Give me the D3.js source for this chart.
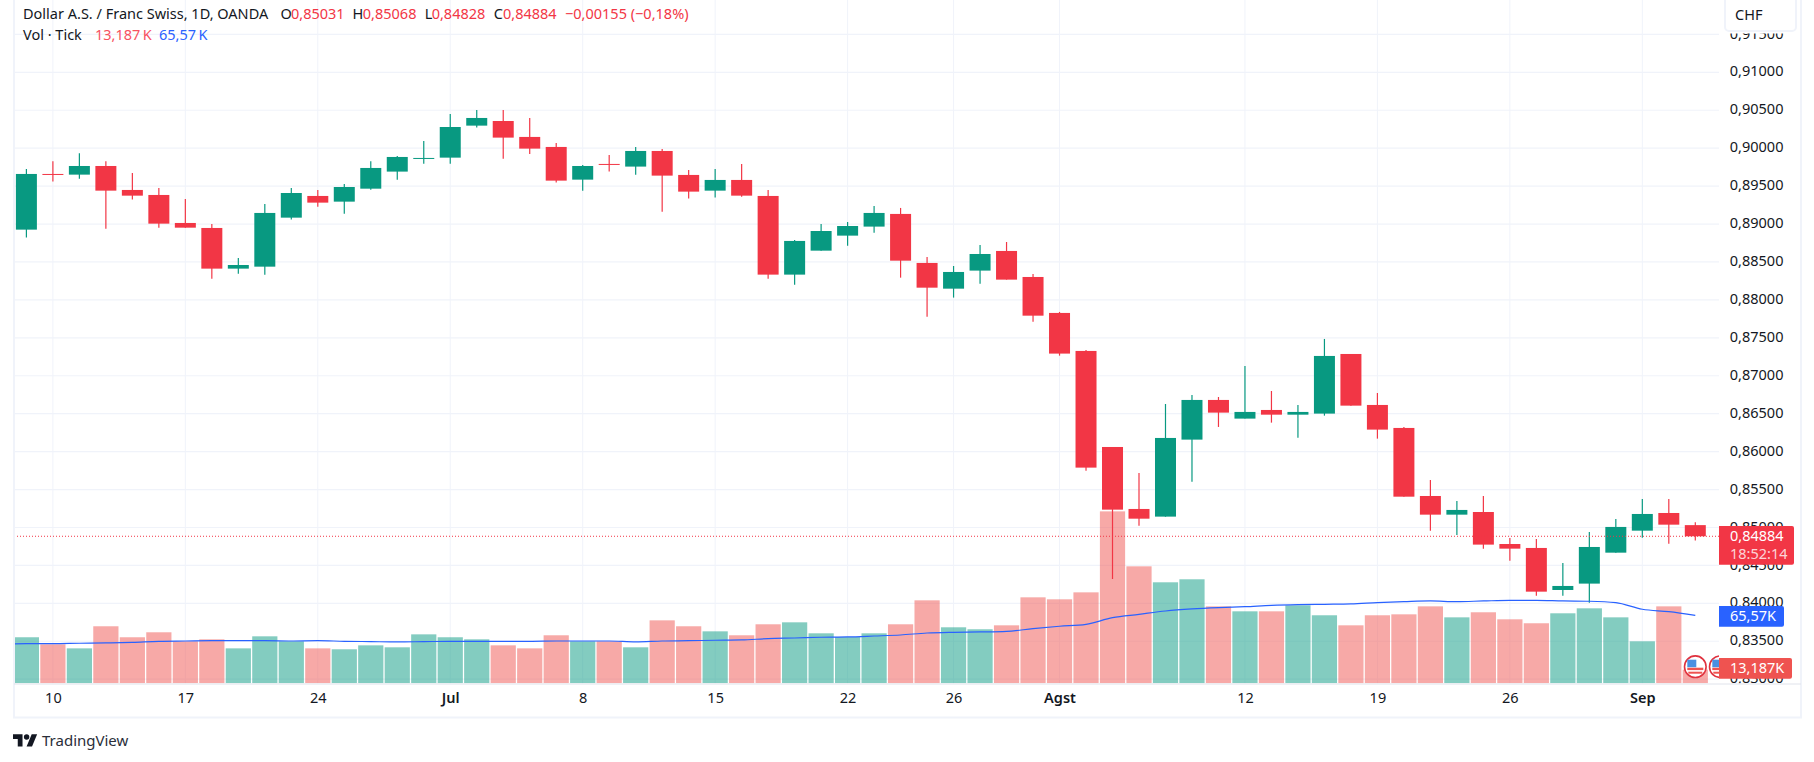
<!DOCTYPE html>
<html>
<head>
<meta charset="utf-8">
<style>
  html, body { margin: 0; padding: 0; background: #fff; }
  svg { display: block; }
  text { font-family: "Noto Sans", "Open Sans", sans-serif; }
  .axis path, .axis line { display: none; }
  .axis text { fill: #131722; font-size: 14.5px; }
</style>
<script src="https://cdn.jsdelivr.net/npm/d3@7"></script>
</head>
<body>
<script>
var opens = [
  0.88926, 0.89660, 0.89651, 0.89765, 0.89449, 0.89383, 0.89014, 0.88948, 0.88412, 0.88438, 0.89084, 0.89370,
  0.89295, 0.89466, 0.89691, 0.89858, 0.89875, 0.90297, 0.90358, 0.90148, 0.90016, 0.89585, 0.89792, 0.89757,
  0.89963, 0.89647, 0.89440, 0.89581, 0.89370, 0.88333, 0.88649, 0.88847, 0.88966, 0.89133, 0.88487, 0.88148,
  0.88386, 0.88645, 0.88302, 0.87828, 0.87327, 0.86061, 0.85244, 0.85143, 0.86158, 0.86681, 0.86435, 0.86549,
  0.86487, 0.86501, 0.87287, 0.86615, 0.86312, 0.85415, 0.85169, 0.85204, 0.84782, 0.84730, 0.84176, 0.84260,
  0.84668, 0.84958, 0.85191, 0.85031
];
var highs = [
  0.89726, 0.89827, 0.89932, 0.89827, 0.89673, 0.89475, 0.89330, 0.89001, 0.88553, 0.89264, 0.89475, 0.89449,
  0.89528, 0.89827, 0.89897, 0.90095, 0.90451, 0.90504, 0.90504, 0.90398, 0.90069, 0.89778, 0.89910, 0.90016,
  0.89989, 0.89713, 0.89726, 0.89792, 0.89449, 0.88790, 0.89001, 0.89027, 0.89238, 0.89212, 0.88566, 0.88447,
  0.88724, 0.88763, 0.88342, 0.87841, 0.87340, 0.86061, 0.85718, 0.86628, 0.86747, 0.86720, 0.87129, 0.86799,
  0.86615, 0.87485, 0.87287, 0.86773, 0.86325, 0.85626, 0.85349, 0.85415, 0.84862, 0.84848, 0.84532, 0.84941,
  0.85112, 0.85376, 0.85376, 0.85068
];
var lows = [
  0.88821, 0.89559, 0.89598, 0.88939, 0.89322, 0.88952, 0.88952, 0.88280, 0.88346, 0.88333, 0.89058, 0.89229,
  0.89137, 0.89453, 0.89585, 0.89796, 0.89796, 0.90271, 0.89862, 0.89923, 0.89546, 0.89440, 0.89691, 0.89651,
  0.89163, 0.89335, 0.89348, 0.89361, 0.88280, 0.88201, 0.88649, 0.88715, 0.88886, 0.88293, 0.87779, 0.88030,
  0.88214, 0.88267, 0.87713, 0.87265, 0.85749, 0.84321, 0.85024, 0.85143, 0.85604, 0.86325, 0.86435, 0.86382,
  0.86184, 0.86474, 0.86606, 0.86171, 0.85406, 0.84958, 0.84901, 0.84721, 0.84563, 0.84101, 0.84101, 0.84009,
  0.84668, 0.84866, 0.84787, 0.84828
];
var closes = [
  0.89660, 0.89651, 0.89765, 0.89440, 0.89374, 0.89005, 0.88952, 0.88412, 0.88460, 0.89146, 0.89409, 0.89282,
  0.89488, 0.89739, 0.89884, 0.89871, 0.90279, 0.90398, 0.90139, 0.89994, 0.89572, 0.89765, 0.89783, 0.89963,
  0.89638, 0.89427, 0.89581, 0.89374, 0.88333, 0.88777, 0.88908, 0.88974, 0.89146, 0.88517, 0.88161, 0.88368,
  0.88605, 0.88267, 0.87792, 0.87292, 0.85789, 0.85235, 0.85116, 0.86180, 0.86681, 0.86514, 0.86523, 0.86487,
  0.86523, 0.87261, 0.86606, 0.86290, 0.85406, 0.85169, 0.85231, 0.84774, 0.84721, 0.84154, 0.84229, 0.84743,
  0.85007, 0.85178, 0.85037, 0.84884
];
// tick volume in thousands
var volumes = [
  44.4, 37.6, 33.7, 55.0, 44.4, 49.2, 40.5, 42.4, 33.7, 45.3, 40.5, 33.7, 32.8, 36.6, 34.7, 47.2,
  44.4, 42.4, 36.6, 33.7, 46.3, 40.5, 40.5, 34.7, 60.7, 55.0, 50.1, 46.3, 56.9, 58.8, 48.2, 44.7,
  48.2, 56.9, 80.0, 54.0, 52.1, 55.9, 82.9, 81.0, 87.7, 165.8, 112.8, 97.4, 100.3, 74.2, 69.4, 69.4,
  75.2, 65.6, 55.9, 65.6, 66.5, 74.2, 63.6, 68.5, 61.7, 57.9, 67.5, 72.3, 63.6, 40.5, 74.2, 13.187
];
// moving average, first value belongs to the bar just off the left edge
var volumeMa = [
  37.3, 38.2, 38.2, 38.6, 38.9, 39.5, 40.5, 40.8, 41.1, 41.1, 41.1, 40.8, 41.1, 40.5, 40.2, 39.9,
  40.2, 40.5, 40.5, 40.5, 40.5, 40.8, 40.8, 40.8, 39.9, 40.8, 41.1, 41.5, 41.8, 43.1, 43.7, 44.4,
  44.7, 45.6, 46.6, 48.5, 49.2, 49.5, 50.1, 52.7, 55.0, 56.9, 63.3, 66.5, 69.7, 71.7, 73.0, 73.9,
  75.2, 75.9, 76.2, 76.5, 77.8, 78.7, 79.4, 78.7, 79.4, 80.0, 80.0, 79.4, 79.1, 77.8, 71.4, 69.1, 65.57
];
var priceTicks = [0.915, 0.91, 0.905, 0.90, 0.895, 0.89, 0.885, 0.88, 0.875, 0.87, 0.865, 0.86, 0.855, 0.85, 0.845, 0.84, 0.835, 0.83];
var timeTickBars = [1, 6, 11, 16, 21, 26, 31, 35, 39, 46, 51, 56, 61];
var timeTickLabels = ['10', '17', '24', 'Jul', '8', '15', '22', '26', 'Agst', '12', '19', '26', 'Sep'];
var boldLabels = ['Jul', 'Agst', 'Sep'];

var lastPrice = closes[closes.length - 1];
var lastVolume = volumes[volumes.length - 1];
var lastMa = volumeMa[volumeMa.length - 1];

var width = 1814, height = 762;
var plotLeft = 14, plotRight = 1719, plotBottom = 683.3, frameRight = 1801, frameBottom = 717.6;
var up = '#089981', down = '#f23645', downVol = '#ef5350', blue = '#2962ff', gridColor = '#f0f3fa', ink = '#131722';

var locale = d3.formatLocale({ decimal: ',', thousands: '.', grouping: [3], currency: ['', ''] });
var fmtPrice = locale.format('.5f');
var fmtVol = locale.format(',.3~f');
var fmtMa = locale.format('.2f');

var x = d3.scaleLinear().domain([0, 63]).range([26.4, 1695.3]);
var y = d3.scaleLinear().domain([0.83, 0.91]).range([679.2, 72.3]);
var yVol = d3.scaleLinear().domain([0, 100]).range([plotBottom, plotBottom - 103.7]);

var svg = d3.select('body').append('svg').attr('width', width).attr('height', height);
svg.append('rect').attr('width', width).attr('height', height).attr('fill', '#fff');

var defs = svg.append('defs');
defs.append('clipPath').attr('id', 'plot-clip').append('rect')
  .attr('x', plotLeft).attr('y', 0).attr('width', plotRight - plotLeft).attr('height', plotBottom);
defs.append('clipPath').attr('id', 'axis-clip').append('rect')
  .attr('x', plotRight).attr('y', 0).attr('width', frameRight - plotRight).attr('height', plotBottom);

// grid
svg.append('g').selectAll('line').data(priceTicks).enter().append('line')
  .attr('x1', plotLeft).attr('x2', plotRight)
  .attr('y1', function(d) { return y(d); }).attr('y2', function(d) { return y(d); })
  .attr('stroke', gridColor).attr('stroke-width', 1.2);
svg.append('g').selectAll('line').data(timeTickBars).enter().append('line')
  .attr('x1', function(d) { return x(d); }).attr('x2', function(d) { return x(d); })
  .attr('y1', 0).attr('y2', plotBottom)
  .attr('stroke', gridColor).attr('stroke-width', 1);

var plot = svg.append('g').attr('clip-path', 'url(#plot-clip)');
var barIndex = d3.range(opens.length);
var isUp = function(i) { return closes[i] >= opens[i]; };

// volume
plot.append('g').selectAll('rect').data(barIndex).enter().append('rect')
  .attr('x', function(i) { return x(i) - 12.6; })
  .attr('width', 25.2)
  .attr('y', function(i) { return yVol(volumes[i]); })
  .attr('height', function(i) { return yVol(0) - yVol(volumes[i]); })
  .attr('fill', function(i) { return isUp(i) ? up : downVol; })
  .attr('fill-opacity', 0.5);

// wicks and bodies
plot.append('g').selectAll('line').data(barIndex).enter().append('line')
  .attr('x1', function(i) { return x(i); }).attr('x2', function(i) { return x(i); })
  .attr('y1', function(i) { return y(highs[i]); }).attr('y2', function(i) { return y(lows[i]); })
  .attr('stroke', function(i) { return isUp(i) ? up : down; })
  .attr('stroke-width', 1.2);
plot.append('g').selectAll('rect').data(barIndex).enter().append('rect')
  .attr('x', function(i) { return x(i) - 10.5; })
  .attr('width', 21)
  .attr('y', function(i) { return y(Math.max(opens[i], closes[i])); })
  .attr('height', function(i) { return Math.max(1, Math.abs(y(opens[i]) - y(closes[i]))); })
  .attr('fill', function(i) { return isUp(i) ? up : down; });

// volume moving average
var maLine = d3.line()
  .x(function(d, i) { return x(i - 1); })
  .y(function(d) { return yVol(d); })
  .curve(d3.curveMonotoneX);
plot.append('path').datum(volumeMa).attr('d', maLine)
  .attr('fill', 'none').attr('stroke', blue).attr('stroke-width', 1.2);

// last price line
svg.append('line')
  .attr('x1', plotLeft).attr('x2', plotRight)
  .attr('y1', y(lastPrice)).attr('y2', y(lastPrice))
  .attr('stroke', down).attr('stroke-width', 1).attr('stroke-dasharray', '1 2');

// flag markers
function flag(cx, cy, parent) {
  var g = parent.append('g').attr('transform', 'translate(' + cx + ',' + cy + ')');
  g.append('circle').attr('r', 10.8).attr('fill', '#fff').attr('stroke', '#e0323f').attr('stroke-width', 1.6);
  g.append('circle').attr('r', 8).attr('fill', '#fff');
  g.append('rect').attr('x', -8).attr('y', 1).attr('width', 16).attr('height', 2.4).attr('fill', '#ef5350');
  g.append('rect').attr('x', -7).attr('y', 5).attr('width', 14).attr('height', 2).attr('fill', '#ef5350');
  g.append('rect').attr('x', -8).attr('y', -7).attr('width', 9).attr('height', 7.5).attr('fill', '#4a90e2');
}
flag(x(63), 666.7, plot);
flag(x(63) + 25, 666.7, plot);

// price axis
svg.append('g').attr('clip-path', 'url(#axis-clip)')
  .append('g').attr('class', 'axis')
  .attr('transform', 'translate(' + (plotRight + 10.8) + ',-1)')
  .call(d3.axisRight(y).tickValues(priceTicks).tickFormat(fmtPrice).tickSize(0).tickPadding(0));

// time axis
var timeAxis = d3.axisBottom(x).tickValues(timeTickBars)
  .tickFormat(function(d, i) { return timeTickLabels[i]; }).tickSize(0).tickPadding(0);
svg.append('g').attr('class', 'axis').attr('transform', 'translate(0,' + (plotBottom + 9.5) + ')')
  .call(timeAxis)
  .selectAll('text')
  .style('font-weight', function(d, i) { return boldLabels.indexOf(timeTickLabels[i]) >= 0 ? 600 : 400; });

// frame
svg.append('path')
  .attr('d', 'M' + plotLeft + ',0V' + frameBottom + 'H' + frameRight + 'V0')
  .attr('fill', 'none').attr('stroke', gridColor).attr('stroke-width', 2);
svg.append('line')
  .attr('x1', plotLeft).attr('x2', frameRight).attr('y1', plotBottom + 0.7).attr('y2', plotBottom + 0.7)
  .attr('stroke', '#e0e3eb').attr('stroke-width', 1);

// currency button, with the white margin that hides the top price label
svg.append('rect').attr('x', plotRight + 1).attr('y', 0).attr('width', frameRight - plotRight - 2).attr('height', 33.5).attr('fill', '#fff');
svg.append('rect').attr('x', 1725).attr('y', -4).attr('width', 71).attr('height', 35).attr('rx', 4)
  .attr('fill', '#fff').attr('stroke', gridColor).attr('stroke-width', 2);
svg.append('text').attr('x', 1735).attr('y', 20).attr('font-size', 14.5).attr('fill', ink).text('CHF');

// value tags on the price scale
function tag(top, w, h, color, lines) {
  svg.append('path')
    .attr('d', 'M' + plotRight + ',' + top + 'h' + (w - 2) + 'q2,0 2,2v' + (h - 4) + 'q0,2 -2,2h-' + (w - 2) + 'z')
    .attr('fill', color);
  lines.forEach(function(l) {
    svg.append('text').attr('x', plotRight + 11).attr('y', top + l.dy)
      .attr('font-size', 14.5).attr('fill', '#fff').attr('fill-opacity', l.op).text(l.text);
  });
}
tag(526, 75, 38.7, down, [{ text: fmtPrice(lastPrice), dy: 15, op: 1 }, { text: '18:52:14', dy: 33, op: 0.8 }]);
tag(606, 65, 20.7, blue, [{ text: fmtMa(lastMa) + 'K', dy: 15, op: 1 }]);
tag(658, 73, 20.7, downVol, [{ text: fmtVol(lastVolume) + 'K', dy: 15, op: 1 }]);

// legend
var legend = svg.append('g').attr('font-size', 14.5);
function legendText(px, py, color, str) {
  legend.append('text').attr('x', px).attr('y', py).attr('fill', color).text(str);
}
legendText(23, 18.5, ink, 'Dollar A.S. / Franc Swiss, 1D, OANDA');
legendText(280.5, 18.5, ink, 'O');
legendText(291, 18.5, down, fmtPrice(opens[63]));
legendText(352.5, 18.5, ink, 'H');
legendText(362.8, 18.5, down, fmtPrice(highs[63]));
legendText(424.8, 18.5, ink, 'L');
legendText(431.7, 18.5, down, fmtPrice(lows[63]));
legendText(493.7, 18.5, ink, 'C');
legendText(503, 18.5, down, fmtPrice(closes[63]));
legendText(565, 18.5, down, '\u22120,00155 (\u22120,18%)');
legendText(23, 39.8, ink, 'Vol \u00b7 Tick');
legendText(95, 39.8, '#f7525f', fmtVol(lastVolume) + '\u2009K');
legendText(159, 39.8, blue, fmtMa(lastMa) + '\u2009K');

// attribution
var logo = svg.append('g').attr('transform', 'translate(13,731.5) scale(0.68)').attr('fill', ink);
logo.append('path').attr('d', 'M14 22H7V11H0V4h14v18zM28 22h-8l7.5-18h8L28 22z');
logo.append('circle').attr('cx', 20).attr('cy', 8).attr('r', 4);
svg.append('text').attr('x', 42).attr('y', 746).attr('font-size', 15).attr('fill', '#2a2e39').text('TradingView');
</script>
</body>
</html>
